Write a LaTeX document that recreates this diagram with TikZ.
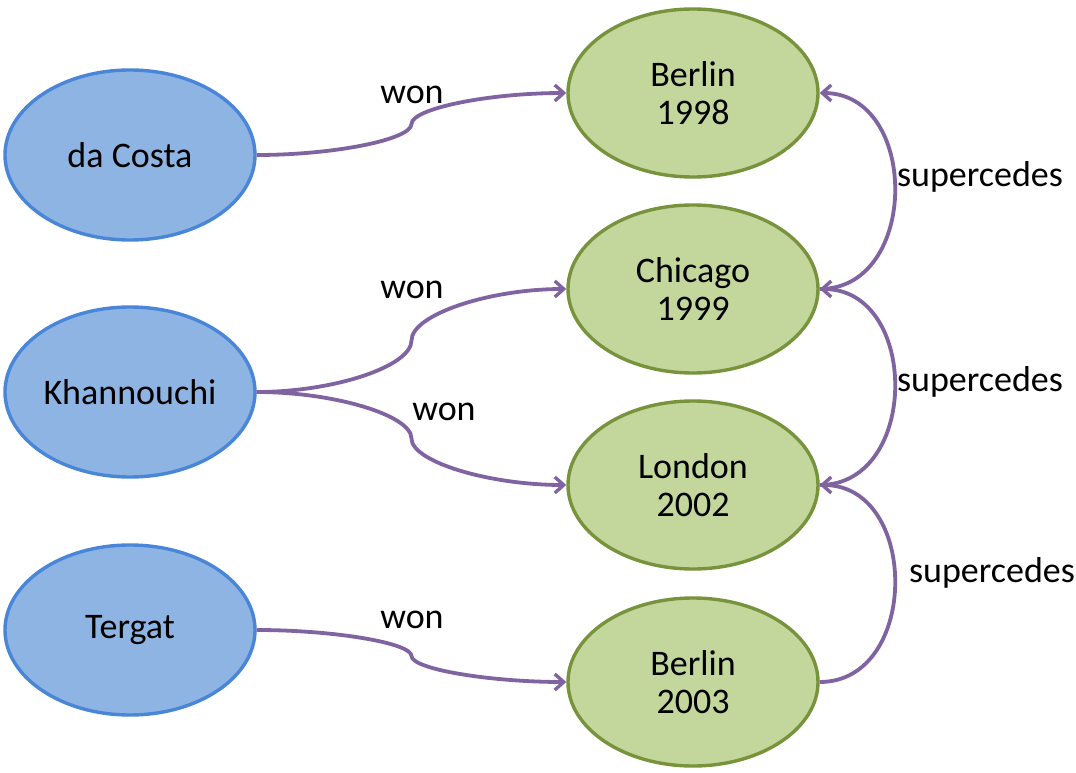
\documentclass[tikz,border=0pt]{standalone}
\usepackage{fontspec}
\setmainfont{Carlito}
\usetikzlibrary{shapes.geometric,arrows.meta,calc}
\definecolor{bluefill}{HTML}{8DB4E2}
\definecolor{blueline}{HTML}{4A86D8}
\definecolor{greenfill}{HTML}{C3D69B}
\definecolor{greenline}{HTML}{77933C}
\definecolor{arrowcol}{HTML}{8064A2}
\tikzset{
  person/.style={ellipse, draw=blueline, fill=bluefill, line width=3.4pt, minimum width=250pt, minimum height=170pt, inner sep=0pt, font=\fontsize{36}{38}\selectfont},
  race/.style={ellipse, draw=greenline, fill=greenfill, line width=3.4pt, minimum width=250pt, minimum height=168pt, inner sep=0pt, align=center, font=\fontsize{36}{38}\selectfont},
  rel/.style={draw=arrowcol, line width=3.8pt, -{Straight Barb[length=9pt,width=16pt,line width=3.4pt]}},
  lbl/.style={font=\fontsize{36}{38}\selectfont, inner sep=0pt},
}
\newcommand{\sconn}[2]{%
  \draw[rel] let \p1=(#1.east), \p2=(#2.west) in
    (\p1) .. controls ({(3*\x1+\x2)/4},\y1) and ({(\x1+\x2)/2},{(3*\y1+\y2)/4}) ..
    ({(\x1+\x2)/2},{(\y1+\y2)/2}) .. controls ({(\x1+\x2)/2},{(\y1+3*\y2)/4}) and ({(\x1+3*\x2)/4},\y2) .. (\p2);}
\begin{document}
\begin{tikzpicture}[x=1pt,y=1pt]
\useasboundingbox (0,0) rectangle (1076,-773);
\node[person] (dc) at (130,-155) {da Costa};
\node[person] (kh) at (130,-392) {Khannouchi};
\node[person] (tg) at (130,-630) {Tergat};
\node[race] (b98) at (693,-93) {Berlin\\1998};
\node[race] (c99) at (693,-289) {Chicago\\1999};
\node[race] (l02) at (693,-485) {London\\2002};
\node[race] (b03) at (693,-682) {Berlin\\2003};
\sconn{dc}{b98}
\sconn{kh}{c99}
\sconn{kh}{l02}
\sconn{tg}{b03}
\node[lbl] (w1) at (412,-95) {won};
\node[lbl] (w2) at (412,-290) {won};
\node[lbl] (w3) at (444,-412) {won};
\node[lbl] (w4) at (412,-620) {won};
\draw[rel] (c99.east) .. controls +(100,0) and +(100,0) .. (b98.east);
\draw[rel] (l02.east) .. controls +(100,0) and +(100,0) .. (c99.east);
\draw[rel] (b03.east) .. controls +(100,0) and +(100,0) .. (l02.east);
\node[lbl] (s1) at (980,-177) {supercedes};
\node[lbl] (s2) at (980,-382) {supercedes};
\node[lbl] (s3) at (992,-573) {supercedes};
\end{tikzpicture}
\end{document}
